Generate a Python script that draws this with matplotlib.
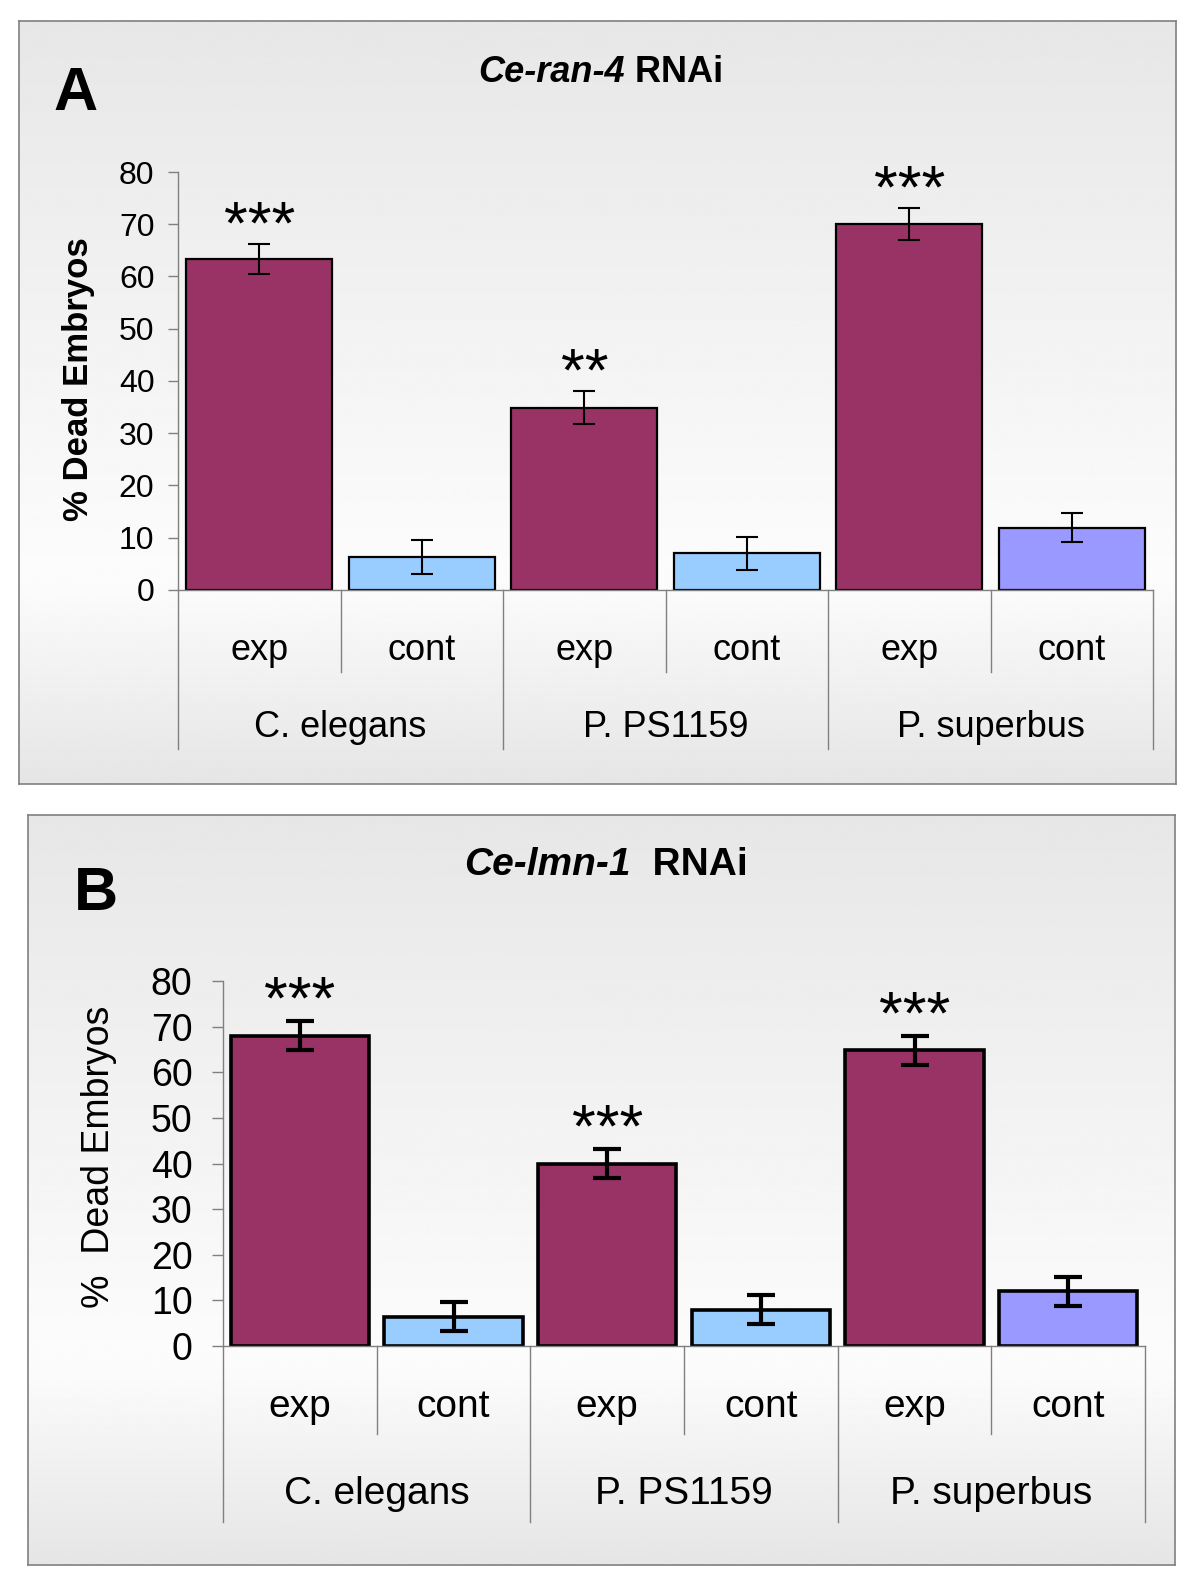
import numpy as np
import matplotlib.pyplot as plt

plt.rcParams['font.family'] = ['Liberation Sans', 'DejaVu Sans']

# categories (two-level axis)
groups = ['C. elegans', 'P. PS1159', 'P. superbus']
conditions = ['exp', 'cont', 'exp', 'cont', 'exp', 'cont']
bar_colors = ['#993366', '#99CCFF', '#993366', '#99CCFF', '#993366', '#9999FF']
yticks = [0, 10, 20, 30, 40, 50, 60, 70, 80]

# panel A: Ce-ran-4 RNAi
ran4_values = [63.4, 6.3, 34.9, 7.0, 70.0, 11.9]
ran4_errors = [2.9, 3.2, 3.1, 3.1, 3.1, 2.8]
ran4_stars = ['***', '', '**', '', '***', '']

# panel B: Ce-lmn-1 RNAi
lmn1_values = [68.0, 6.4, 40.0, 8.0, 64.8, 12.0]
lmn1_errors = [3.2, 3.2, 3.1, 3.2, 3.2, 3.2]
lmn1_stars = ['***', '', '***', '', '***', '']

W, H = 1200, 1584
fig = plt.figure(figsize=(W / 100, H / 100), dpi=100)
renderer = fig.canvas.get_renderer()


def fx(px):
    return px / W


def fy(py):
    return 1 - py / H


def pt(px):
    return px * 72 / 100


def panel(box, axbox, values, errors, stars, letter, letter_xy, title_it, title_rest,
          title_xy, title_size, ylabel, ylabel_xy, ylabel_bold, ylabel_size,
          tick_size, label_size, edge_lw, err_lw, cap, tick_len, tick_pad,
          exp_off, grp_off, short_d, long_d, star_off):
    x0, y0, x1, y1 = box
    # gradient background with grey frame
    bg = fig.add_axes([fx(x0), fy(y1), (x1 - x0) / W, (y1 - y0) / H])
    grad = np.interp(np.linspace(0, 1, 256), [0, 0.73, 1], [0.905, 0.988, 0.90])
    bg.imshow(grad[:, None], cmap='gray', vmin=0, vmax=1, aspect='auto',
              extent=[0, 1, 0, 1])
    bg.set_xticks([])
    bg.set_yticks([])
    for s in bg.spines.values():
        s.set_color('#808080')
        s.set_linewidth(1.2)
    bg.set_zorder(0)

    left, top80, right, bot0 = axbox
    ax = fig.add_axes([fx(left), fy(bot0), (right - left) / W, (bot0 - top80) / H])
    ax.set_zorder(1)
    ax.patch.set_visible(False)
    x = np.arange(len(values))
    ax.bar(x, values, width=0.9, color=bar_colors, edgecolor='black',
           linewidth=edge_lw, zorder=2)
    ax.errorbar(x, values, yerr=errors, fmt='none', ecolor='black',
                elinewidth=err_lw, capsize=cap, capthick=err_lw, zorder=3)
    ax.set_xlim(-0.5, 5.5)
    ax.set_ylim(0, 80)
    ax.set_yticks(yticks)
    ax.set_xticks([])
    ax.tick_params(axis='y', color='#808080', labelcolor='black', length=tick_len,
                   width=1, pad=tick_pad, labelsize=tick_size)
    for side in ['top', 'right']:
        ax.spines[side].set_visible(False)
    for side in ['left', 'bottom']:
        ax.spines[side].set_color('#808080')
        ax.spines[side].set_linewidth(1)

    # category dividers below the axis
    px_per_unit = (bot0 - top80) / 80
    for i, xb in enumerate(np.arange(-0.5, 6, 1)):
        depth = long_d if i % 2 == 0 else short_d
        ax.plot([xb, xb], [0, -depth / px_per_unit], color='#808080', lw=1,
                clip_on=False)
    for i, c in enumerate(conditions):
        ax.annotate(c, xy=(i, 0), xytext=(0, -pt(exp_off)), textcoords='offset points',
                    ha='center', va='center', fontsize=label_size)
    for g, name in enumerate(groups):
        ax.annotate(name, xy=(2 * g + 0.5, 0), xytext=(0, -pt(grp_off)),
                    textcoords='offset points', ha='center', va='center',
                    fontsize=label_size)

    for i, s in enumerate(stars):
        if s:
            ax.annotate(s, xy=(i, values[i] + errors[i]), xytext=(0, pt(star_off)),
                        textcoords='offset points', ha='center', va='center',
                        fontsize=44)

    fig.text(fx(ylabel_xy[0]), fy(ylabel_xy[1]), ylabel, rotation=90, ha='center',
             va='center', fontsize=ylabel_size,
             fontweight='bold' if ylabel_bold else 'normal')
    fig.text(fx(letter_xy[0]), fy(letter_xy[1]), letter, ha='center', va='center',
             fontsize=44, fontweight='bold')

    t1 = fig.text(0, fy(title_xy[1]), title_it, fontsize=title_size, fontweight='bold',
                  style='italic', ha='left', va='center')
    t2 = fig.text(0, fy(title_xy[1]), title_rest, fontsize=title_size,
                  fontweight='bold', ha='left', va='center')
    w1 = t1.get_window_extent(renderer).width
    w2 = t2.get_window_extent(renderer).width
    start = title_xy[0] - (w1 + w2) / 2
    t1.set_x(fx(start))
    t2.set_x(fx(start + w1))
    return ax


panel(box=(19, 21, 1176, 784), axbox=(178, 172, 1153, 590),
      values=ran4_values, errors=ran4_errors, stars=ran4_stars,
      letter='A', letter_xy=(76, 94), title_it='Ce-ran-4', title_rest=' RNAi',
      title_xy=(601, 73), title_size=26,
      ylabel='% Dead Embryos', ylabel_xy=(79, 379), ylabel_bold=True, ylabel_size=25,
      tick_size=23, label_size=26, edge_lw=1.6, err_lw=1.5, cap=8, tick_len=7,
      tick_pad=10, exp_off=61, grp_off=138, short_d=82, long_d=159, star_off=16)

panel(box=(28, 815, 1175, 1565), axbox=(223, 981, 1145, 1346),
      values=lmn1_values, errors=lmn1_errors, stars=lmn1_stars,
      letter='B', letter_xy=(96, 894), title_it='Ce-lmn-1', title_rest='  RNAi',
      title_xy=(606, 865), title_size=28,
      ylabel='%  Dead Embryos', ylabel_xy=(99, 1157), ylabel_bold=False, ylabel_size=27,
      tick_size=27, label_size=28, edge_lw=2.6, err_lw=3, cap=10, tick_len=8,
      tick_pad=14, exp_off=61, grp_off=148, short_d=88, long_d=176, star_off=18)

fig.savefig('out.png', dpi=100, facecolor='white')
